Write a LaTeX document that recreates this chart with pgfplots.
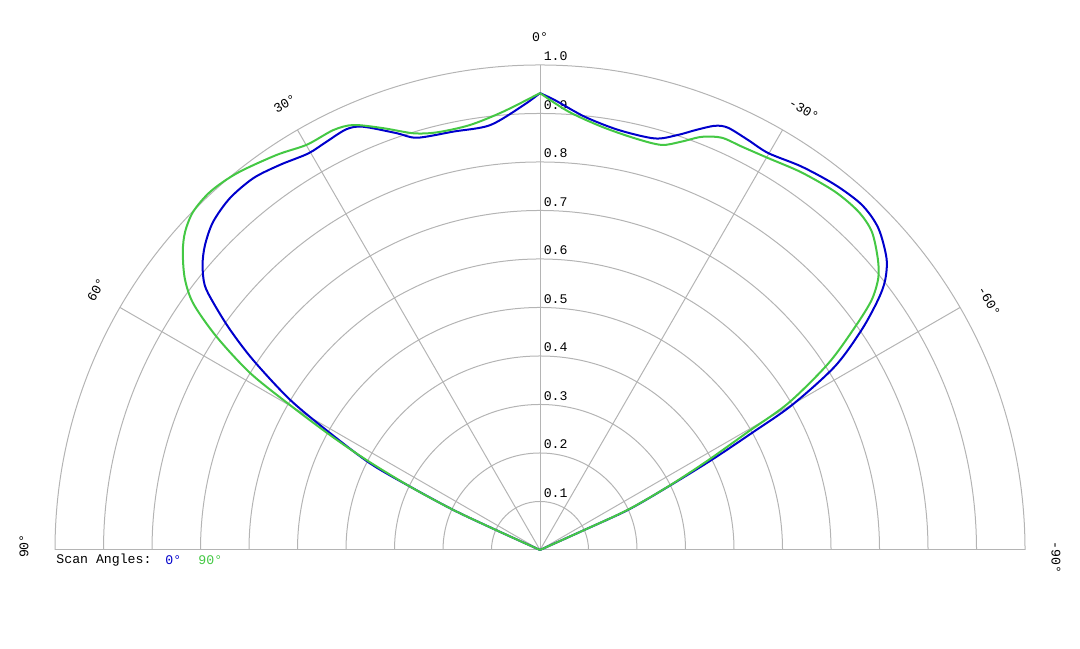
\documentclass[border=0pt]{standalone}
\usepackage{pgfplots}
\pgfplotsset{compat=1.18}
\usepackage{fontspec}
\setmainfont{Liberation Mono}
\definecolor{bl}{RGB}{0,0,204}
\definecolor{gr}{RGB}{68,200,68}
\definecolor{gc}{RGB}{180,180,180}
\begin{document}
\begin{tikzpicture}
\begin{axis}[hide axis, x=242.5pt, y=242.5pt,
  xmin=-1.1134, xmax=1.1134, ymin=-0.2021, ymax=1.1340,
  clip=false, font=\fontsize{6.6}{8}\selectfont]
\path (axis cs:-1.1134,-0.2021) rectangle (axis cs:1.1134,1.1340);
% grid rings
\pgfplotsinvokeforeach{0.1,0.2,0.3,0.4,0.5,0.6,0.7,0.8,0.9,1.0}{
  \draw[gc, line width=0.5pt] (axis cs:#1,0) arc[start angle=0, end angle=180, radius=#1*242.5pt];
  \node[anchor=base west, inner sep=0pt] at (axis cs:0.007,#1+0.009) {#1};
}
% radial lines
\draw[gc, line width=0.5pt] (axis cs:-1,0) -- (axis cs:1,0);
\draw[gc, line width=0.5pt] (axis cs:0,0) -- (axis cs:0,1);
\draw[gc, line width=0.5pt] (axis cs:0,0) -- (axis cs:-0.5,0.8660);
\draw[gc, line width=0.5pt] (axis cs:0,0) -- (axis cs:0.5,0.8660);
\draw[gc, line width=0.5pt] (axis cs:0,0) -- (axis cs:-0.8660,0.5);
\draw[gc, line width=0.5pt] (axis cs:0,0) -- (axis cs:0.8660,0.5);
% blue (0 deg scan)
\addplot[bl, line width=1pt, smooth, data cs=polar] coordinates {
(24,0) (24.3,0.100) (24.5,0.200) (26.3,0.295) (27.7,0.400) (28.9,0.498)
(29.9,0.599) (31.9,0.716) (34.4,0.804) (36.5,0.867) (38.0,0.903) (40.1,0.934)
(43.6,0.963) (47.0,0.973) (51.1,0.968) (55.7,0.957) (60.1,0.944) (63.1,0.948)
(66.0,0.953) (67.6,0.946) (69.7,0.923) (71.6,0.902) (74.4,0.881) (79.4,0.881)
(84.1,0.898) (88.1,0.928) (90,0.942)};
\addplot[bl, line width=1pt, smooth, data cs=polar] coordinates {
(90,0.942) (92.1,0.918) (96.7,0.882) (101.7,0.881) (106.6,0.887) (109.0,0.909)
(112.7,0.946) (114.7,0.955) (117.6,0.950) (120.3,0.947) (124.0,0.958) (127.6,0.968)
(131.4,0.967) (134.9,0.955) (137.7,0.934) (139.8,0.911) (141.7,0.881) (142.9,0.844)
(144.6,0.784) (146.5,0.709) (149.0,0.601) (150.9,0.495) (153.0,0.393) (154.0,0.298)
(155.2,0.197) (155.6,0.100) (156,0)};
% green (90 deg scan)
\addplot[gr, line width=1pt, smooth, data cs=polar] coordinates {
(24,0) (24.3,0.100) (24.6,0.200) (26.4,0.297) (28.1,0.394) (29.6,0.494)
(30.6,0.595) (32.9,0.708) (35.3,0.796) (37.0,0.856) (38.8,0.895) (40.8,0.920)
(43.8,0.948) (46.7,0.958) (50.5,0.957) (55.3,0.947) (59.8,0.935) (63.4,0.930)
(66.2,0.929) (68.6,0.915) (70.9,0.891) (73.3,0.872) (77.0,0.871) (81.7,0.882)
(86.3,0.906) (90,0.942)};
\addplot[gr, line width=1pt, smooth, data cs=polar] coordinates {
(90,0.942) (94.8,0.907) (99.4,0.888) (103.9,0.887) (106.9,0.898) (110.4,0.928)
(113.7,0.957) (116.2,0.965) (119.9,0.964) (123.7,0.979) (128.8,0.997) (132.6,1.004)
(135.7,0.999) (138.1,0.983) (140.1,0.960) (142.6,0.922) (144.6,0.877) (146.6,0.799)
(148.6,0.700) (149.9,0.596) (151.3,0.494) (152.6,0.403) (154.0,0.298) (155.2,0.197)
(155.6,0.100) (156,0)};
% angle labels
\node at (axis cs:0,1.058) {0°};
\node[rotate=30] at (axis cs:-0.526,0.920) {30°};
\node[rotate=-30] at (axis cs:0.544,0.907) {-30°};
\node[rotate=60] at (axis cs:-0.915,0.536) {60°};
\node[rotate=-60] at (axis cs:0.926,0.513) {-60°};
\node[rotate=90] at (axis cs:-1.064,0.008) {90°};
\node[rotate=-90] at (axis cs:1.064,-0.016) {-90°};
% legend
\node[anchor=west, inner sep=0pt] at (axis cs:-0.9979,-0.0206) {Scan Angles:};
\node[anchor=west, inner sep=0pt, text=bl] at (axis cs:-0.773,-0.0206) {0°};
\node[anchor=west, inner sep=0pt, text=gr] at (axis cs:-0.705,-0.0206) {90°};
\end{axis}
\end{tikzpicture}
\end{document}
